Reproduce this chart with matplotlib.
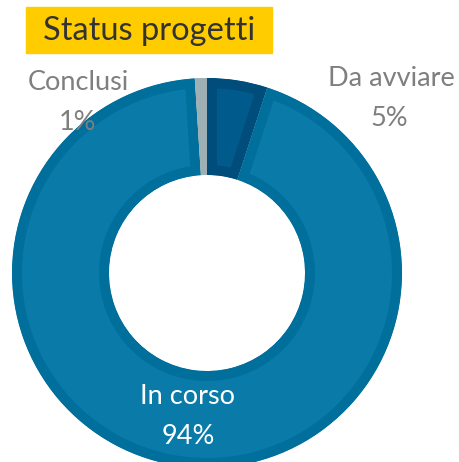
import matplotlib.pyplot as plt

# data
labels = ['Da avviare', 'In corso', 'Conclusi']
values = [5, 94, 1]
fill_colors = ['#005a8c', '#0a7ba9', '#9fb0b4']
edge_colors = ['#004c7a', '#006f9c', '#9fb0b4']

W, H = 459, 462
fig = plt.figure(figsize=(W / 100, H / 100), dpi=100)
ax = fig.add_axes([0, 0, 1, 1])

wedges, _ = ax.pie(values, colors=fill_colors, startangle=90, counterclock=False,
                   center=(207, H - 273), radius=195, frame=True,
                   wedgeprops=dict(width=97, linewidth=0))
ax.set_xlim(0, W)
ax.set_ylim(0, H)
ax.set_aspect('equal')
ax.axis('off')

# darker inner border on each slice (stroke clipped to the slice itself)
for w, ec in zip(wedges, edge_colors):
    w.set_edgecolor(ec)
    w.set_linewidth(14.4)
    w.set_clip_on(True)
    w.set_clip_path(w)

font = ['Lato', 'DejaVu Sans']

# title in yellow box
fig.patches.append(plt.Rectangle((26 / W, 1 - 53 / H), (272 - 26) / W, 46 / H,
                                 transform=fig.transFigure, color='#ffcc00', zorder=0))
fig.text(149 / W, 1 - 31 / H, 'Status progetti', ha='center', va='center',
         fontsize=23.5, color='#333333', family=font)

# data labels
name_pos = [(391, 78), (188, 397), (78, 83)]
pct_pos = [(389, 118), (188, 436), (78, 122)]
lab_col = ['#7f7f7f', 'white', '#7f7f7f']
for lab, v, (x1, y1), (x2, y2), c in zip(labels, values, name_pos, pct_pos, lab_col):
    fig.text(x1 / W, 1 - y1 / H, lab, ha='center', va='center',
             fontsize=19.5, color=c, family=font)
    fig.text(x2 / W, 1 - y2 / H, f'{v}%', ha='center', va='center',
             fontsize=19.5, color=c, family=font)

fig.savefig('out.png', dpi=100)
